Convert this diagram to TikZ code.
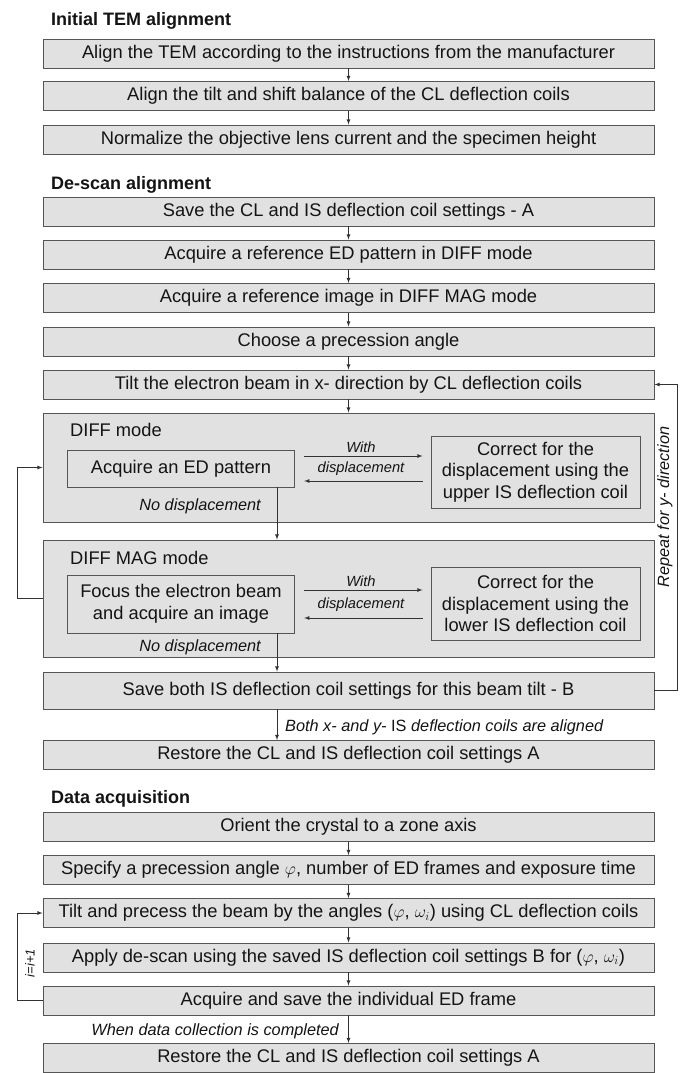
\documentclass[tikz,border=0pt]{standalone}
\usepackage{fontspec}
\setmainfont{Liberation Sans}
\usetikzlibrary{arrows}

\definecolor{boxfill}{RGB}{225,225,225}
\definecolor{boxline}{RGB}{85,85,85}
\definecolor{linkcol}{RGB}{50,50,50}
\definecolor{textcol}{RGB}{20,20,20}

\begin{document}
\begin{tikzpicture}[x=1pt,y=-1pt,>=latex,
  stage/.style={draw=boxline,fill=boxfill,line width=0.9pt,minimum width=611pt,minimum height=29pt,inner sep=0pt,text=textcol,font=\fontsize{18.3}{21.5}\selectfont},
  inbox/.style={draw=boxline,fill=boxfill,line width=0.9pt,inner sep=0pt,align=center,text=textcol,font=\fontsize{18.3}{21.5}\selectfont},
  head/.style={anchor=base west,inner sep=0pt,text=textcol,font=\fontsize{18}{21}\selectfont\bfseries},
  modelab/.style={anchor=base west,inner sep=0pt,text=textcol,font=\fontsize{18.3}{21}\selectfont},
  note/.style={inner sep=0pt,text=textcol,font=\fontsize{16.3}{19}\selectfont\itshape},
  smallnote/.style={inner sep=0pt,text=textcol,font=\fontsize{14.7}{17}\selectfont\itshape},
  link/.style={line width=0.8pt,draw=linkcol}]
  \useasboundingbox (0,0) rectangle (684,1073);

  % initial TEM alignment
  \node[head] (head1) at (51,26) {Initial TEM alignment};
  \node[stage] (a1) at (348.5,53.5) {Align the TEM according to the instructions from the manufacturer};
  \node[stage] (a2) at (348.5,96) {Align the tilt and shift balance of the CL deflection coils};
  \node[stage] (a3) at (348.5,139.5) {Normalize the objective lens current and the specimen height};
  \draw[link,->] (a1) -- (a2); \draw[link,->] (a2) -- (a3);

  % de-scan alignment
  \node[head] (head2) at (51,189) {De-scan alignment};
  \node[stage] (s1) at (348.5,211.5) {Save the CL and IS deflection coil settings - A};
  \node[stage] (s2) at (348.5,254.5) {Acquire a reference ED pattern in DIFF mode};
  \node[stage] (s3) at (348.5,298) {Acquire a reference image in DIFF MAG mode};
  \node[stage] (s4) at (348.5,341.5) {Choose a precession angle};
  \node[stage] (s5) at (348.5,384.5) {Tilt the electron beam in x- direction by CL deflection coils};
  \draw[link,->] (s1) -- (s2); \draw[link,->] (s2) -- (s3); \draw[link,->] (s3) -- (s4); \draw[link,->] (s4) -- (s5);

  \node[stage,minimum height=109pt] (diff) at (348.5,467.5) {};
  \node[modelab] (difflab) at (70,436) {DIFF mode};
  \node[inbox,minimum width=227.5pt,minimum height=37pt] (ed) at (181,468.5) {Acquire an ED pattern};
  \node[inbox,minimum width=209pt,minimum height=72pt] (cu) at (535.5,472) {Correct for the\\displacement using the\\upper IS deflection coil};
  \node[smallnote,anchor=base] (w1) at (361,452) {With};
  \node[smallnote,anchor=base] (dp1) at (361,472) {displacement};
  \draw[link,->,shorten <=9pt,shorten >=8pt] (ed.east |- 0,456) -- (cu.west |- 0,456);
  \draw[link,->,shorten <=8pt,shorten >=9pt] (cu.west |- 0,481) -- (ed.east |- 0,481);
  \node[note,anchor=base east] (nd1) at (261,510) {No displacement};

  \node[stage,minimum height=117pt] (diffmag) at (348.5,598.5) {};
  \node[modelab] (maglab) at (70,564) {DIFF MAG mode};
  \node[inbox,minimum width=227.5pt,minimum height=58pt] (focus) at (181,604) {Focus the electron beam\\and acquire an image};
  \node[inbox,minimum width=209pt,minimum height=73pt] (cl) at (535.5,603.5) {Correct for the\\displacement using the\\lower IS deflection coil};
  \node[smallnote,anchor=base] (w2) at (361,586) {With};
  \node[smallnote,anchor=base] (dp2) at (361,608) {displacement};
  \draw[link,->,shorten <=9pt,shorten >=8pt] (focus.east |- 0,590) -- (cl.west |- 0,590);
  \draw[link,->,shorten <=8pt,shorten >=9pt] (cl.west |- 0,618) -- (focus.east |- 0,618);
  \node[note,anchor=base east] (nd2) at (261,651) {No displacement};

  \node[stage,minimum height=37pt] (saveb) at (348.5,690.5) {Save both IS deflection coil settings for this beam tilt - B};
  \node[stage] (resta) at (348.5,755) {Restore the CL and IS deflection coil settings A};
  \node[note,anchor=base west] (aligned) at (285,731) {Both x- and y- \upshape IS\itshape{} deflection coils are aligned};

  \coordinate (kx) at (277,0);
  \draw[link,->] (s5) -- (diff);
  \draw[link,->] (ed.south -| kx) -- (diffmag.north -| kx);
  \draw[link,->] (focus.south -| kx) -- (saveb.north -| kx);
  \draw[link,->] (saveb.south -| kx) -- (resta.north -| kx);
  \draw[link,->] (diffmag.west) -- ++(-25,0) |- (diff.west);
  \draw[link,->] (saveb.east) -- ++(23,0) |- (s5.east);
  \node[note,rotate=90] (rep) at (665,507) {Repeat for y- direction};

  % data acquisition
  \node[head] (head3) at (51,803) {Data acquisition};
  \node[stage] (d1) at (348.5,827) {Orient the crystal to a zone axis};
  \node[stage] (d2) at (348.5,870) {Specify a precession angle $\varphi$, number of ED frames and exposure time};
  \node[stage] (d3) at (348.5,913) {Tilt and precess the beam by the angles ($\varphi$, $\omega_i$) using CL deflection coils};
  \node[stage] (d4) at (348.5,957.5) {Apply de-scan using the saved IS deflection coil settings B for ($\varphi$, $\omega_i$)};
  \node[stage] (d5) at (348.5,1000.5) {Acquire and save the individual ED frame};
  \node[stage] (d6) at (348.5,1058) {Restore the CL and IS deflection coil settings A};
  \draw[link,->] (d1) -- (d2); \draw[link,->] (d2) -- (d3); \draw[link,->] (d3) -- (d4);
  \draw[link,->] (d4) -- (d5); \draw[link,->] (d5) -- (d6);
  \draw[link,->] (d5.west) -- ++(-25,0) |- (d3.west);
  \node[inner sep=0pt,text=textcol,font=\fontsize{13}{15}\selectfont\itshape,rotate=90] (inc) at (30,963) {i=i+1};
  \node[note,anchor=base east] (done) at (339,1035) {When data collection is completed};
\end{tikzpicture}
\end{document}
